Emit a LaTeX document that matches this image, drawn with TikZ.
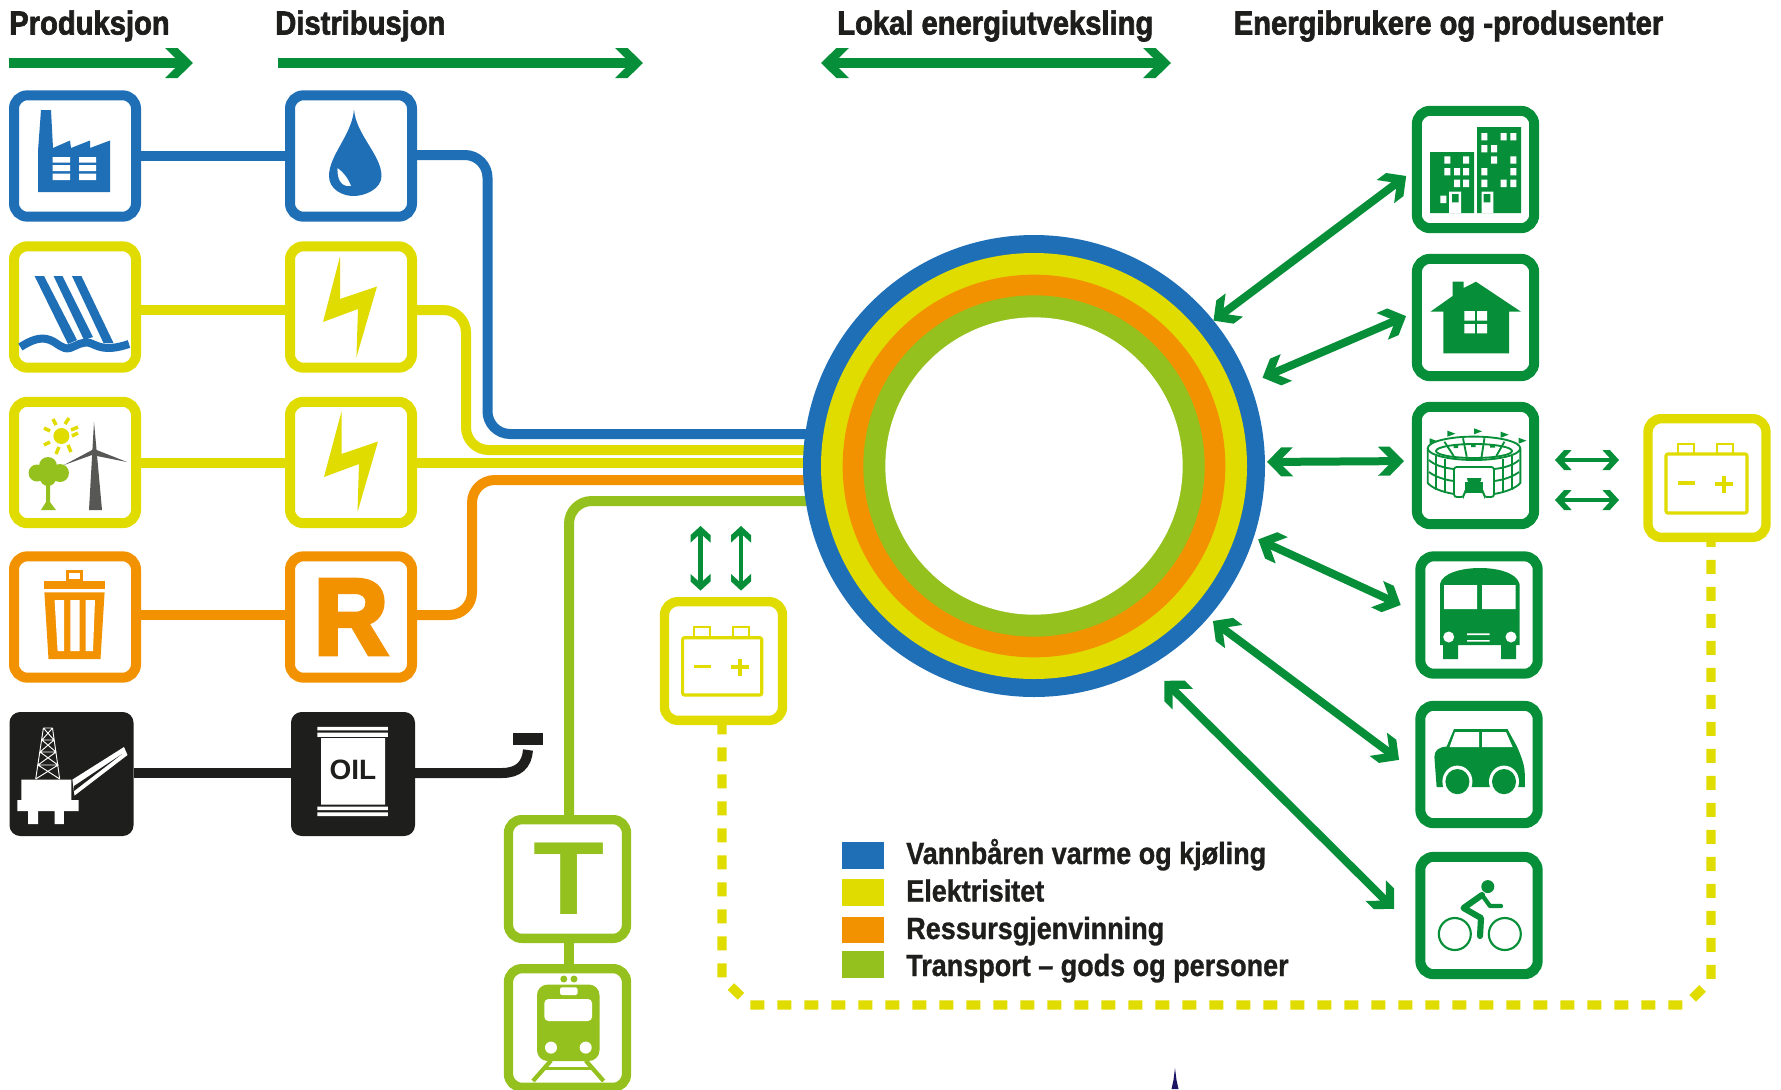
\documentclass[tikz,border=0pt]{standalone}
\usepackage{fontspec}
\setmainfont{Liberation Sans}
\newfontfamily\headfont{Liberation Sans}[FakeStretch=0.875,FakeBold=2]
\newfontfamily\legendfont{Liberation Sans}[FakeStretch=0.88,FakeBold=1]
\newfontfamily\iconfont{Liberation Sans}[FakeStretch=0.95,FakeBold=4]
\newfontfamily\termfont{Liberation Sans}[FakeStretch=1.12]
\usepackage{tikz}
\usetikzlibrary{arrows.meta}
\definecolor{heatblue}{HTML}{1F6FB7}
\definecolor{poweryellow}{HTML}{E0DC00}
\definecolor{wasteorange}{HTML}{F39200}
\definecolor{transportlime}{HTML}{95C11F}
\definecolor{flowgreen}{HTML}{068F38}
\definecolor{oilblack}{HTML}{1E1E1C}
\definecolor{turbinegrey}{HTML}{575756}
\definecolor{spirenavy}{HTML}{1B1464}
\pgfdeclarearrow{
  name = Chevron,
  parameters = {\the\pgfarrowlength,\the\pgfarrowwidth},
  setup code = {
    \pgfarrowssettipend{0pt}
    \pgfarrowssetbackend{-\pgfarrowlength}
    \pgfarrowssetlineend{-.3\pgfarrowlength}
    \pgfarrowssavethe\pgfarrowlength
    \pgfarrowssavethe\pgfarrowwidth
  },
  drawing code = {
    \pgfpathmoveto{\pgfpointorigin}
    \pgfpathlineto{\pgfqpoint{-.55\pgfarrowlength}{.5\pgfarrowwidth}}
    \pgfpathlineto{\pgfqpoint{-\pgfarrowlength}{.5\pgfarrowwidth}}
    \pgfpathlineto{\pgfqpoint{-.45\pgfarrowlength}{0pt}}
    \pgfpathlineto{\pgfqpoint{-\pgfarrowlength}{-.5\pgfarrowwidth}}
    \pgfpathlineto{\pgfqpoint{-.55\pgfarrowlength}{-.5\pgfarrowwidth}}
    \pgfpathclose
    \pgfusepathqfill
  },
  defaults = {length=21pt,width=22.5pt}
}
\tikzset{
  iconbox/.style={draw=#1,fill=white,line width=7.5pt,rounded corners=10pt,minimum width=91.5pt,minimum height=91pt,inner sep=0pt,outer sep=0pt},
  userbox/.style={draw=flowgreen,fill=white,line width=7.5pt,rounded corners=10pt,minimum width=88pt,minimum height=88pt,inner sep=0pt,outer sep=0pt},
  smallbox/.style={draw=#1,fill=white,line width=7pt,rounded corners=10pt,minimum width=88.5pt,minimum height=89pt,inner sep=0pt,outer sep=0pt},
  oilbox/.style={fill=oilblack,rounded corners=8pt,minimum width=93pt,minimum height=93pt,inner sep=0pt,outer sep=0pt},
  ring/.style 2 args={circle,fill=#1,minimum size=#2,inner sep=0pt,outer sep=0pt},
  pipe/.style={draw=#1,line width=7.5pt,rounded corners=17pt},
  headarrow/.style={draw=flowgreen,line width=7.5pt,>={Chevron[length=21pt,width=22.5pt]}},
  flowarrow/.style={draw=flowgreen,line width=6pt,<->,>={Chevron[length=19.5pt,width=21.75pt]}},
  storearrow/.style={draw=flowgreen,line width=3.6pt,<->,>={Chevron[length=12.5pt,width=15pt]}},
  storeline/.style={draw=poweryellow,line width=7pt,dash pattern={on 10.5pt off 9.75pt}},
  headtext/.style={anchor=base west,inner sep=0pt,font=\headfont\bfseries\fontsize{25}{25}\selectfont,color=oilblack},
  legendtext/.style={anchor=base west,inner sep=0pt,font=\legendfont\bfseries\fontsize{23}{23}\selectfont,color=oilblack},
  swatch/.style={fill=#1,minimum width=31.5pt,minimum height=20pt,inner sep=0pt,outer sep=0pt}
}
\begin{document}
\begin{tikzpicture}[x=0.75pt,y=0.75pt,yscale=-1,xscale=1]
\useasboundingbox (0,0) rectangle (1781,1089);

% Text Node
\draw (9,34.5) node (prodhead) [headtext] {Produksjon};
% Text Node
\draw (275,34.5) node (disthead) [headtext] {Distribusjon};
% Text Node
\draw (837,34.5) node (localhead) [headtext] {Lokal energiutveksling};
% Text Node
\draw (1233.5,34.5) node (userhead) [headtext] {Energibrukere og -produsenter};

%Straight Lines
\coordinate (prodfrom) at (9,63); \coordinate (prodto) at (193,63);
\coordinate (distfrom) at (278,63); \coordinate (distto) at (643,63);
\coordinate (localfrom) at (821,63); \coordinate (localto) at (1171,63);
\draw [headarrow,->]  (prodfrom) -- (prodto) ;
\draw [headarrow,->]  (distfrom) -- (distto) ;
\draw [headarrow,<->]  (localfrom) -- (localto) ;

%Shape: Production and distribution boxes
\draw (75,156) node (prodA) [iconbox=heatblue] {};
\draw (351,156) node (distA) [iconbox=heatblue] {};
\draw (75,307) node (prodB) [iconbox=poweryellow] {};
\draw (351,307) node (distB) [iconbox=poweryellow] {};
\draw (75,462.5) node (prodC) [iconbox=poweryellow] {};
\draw (351,462.5) node (distC) [iconbox=poweryellow] {};
\draw (75,617) node (prodD) [iconbox=wasteorange] {};
\draw (351,617) node (distD) [iconbox=wasteorange] {};
\draw (71.5,774) node (prodE) [oilbox] {};
\draw (353,774) node (distE) [oilbox] {};
\draw (567.5,879) node (termA) [smallbox=transportlime] {};
\draw (567.5,1028) node (termB) [smallbox=transportlime] {};
\draw (723.5,661) node (battA) [smallbox=poweryellow] {};
\draw (1707,478) node (battB) [smallbox=poweryellow] {};

%Straight Lines
\coordinate (hubA) at (830,434);
\coordinate (hubB) at (830,450);
\coordinate (hubC) at (830,463);
\coordinate (hubD) at (830,480);
\coordinate (hubE) at (830,501);
\coordinate (oilend) at (528,750);
\draw [draw=heatblue,line width=7.5pt]  (prodA) -- (distA) ;
\draw [draw=poweryellow,line width=7.5pt]  (prodB.east |- 0,310) -- (distB.west |- 0,310) ;
\draw [draw=poweryellow,line width=7.5pt]  (prodC.east |- 0,463) -- (distC.west |- 0,463) ;
\draw [draw=wasteorange,line width=7.5pt]  (prodD.east |- 0,615) -- (distD.west |- 0,615) ;
\draw [draw=oilblack,line width=7.5pt]  (prodE.east |- 0,773) -- (distE.west |- 0,773) ;
\draw [pipe=poweryellow]  (distB.east |- 0,310) -- (466,310) -- (466,450) -- (hubB) ;
\draw [pipe=heatblue]  (distA.east |- 0,155) -- (487.5,155) -- (487.5,434) -- (hubA) ;
\draw [draw=poweryellow,line width=7.5pt]  (distC.east |- 0,463) -- (hubC) ;
\draw [pipe=wasteorange]  (distD.east |- 0,615) -- (472,615) -- (472,480) -- (hubD) ;
\draw [draw=oilblack,line width=7.5pt]  (distE.east |- 0,773) -- (502,773) .. controls (518,773) and (527,765) .. (oilend) ;
\draw [pipe=transportlime]  (termA.north -| 569,0) -- (569,501) -- (hubE) ;
\draw [draw=transportlime,line width=7.5pt]  (termB.north -| 569,0) -- (termA.south -| 569,0) ;
%Shape: Pipe cap
\fill [oilblack]  (513,733) rectangle (543,745) ;

%Shape: Rings
\draw (1034,466) node (hub) [ring={heatblue}{346.5pt}] {};
\draw (1034,466) node (hubyellow) [ring={poweryellow}{319.5pt}] {};
\draw (1034,466) node (huborange) [ring={wasteorange}{287pt}] {};
\draw (1034,466) node (hublime) [ring={transportlime}{256pt}] {};
\draw (1034,466) node (hubcore) [ring={white}{223pt}] {};

%Shape: User boxes
\draw (1475.5,169.5) node (userA) [userbox] {};
\draw (1475.5,317.5) node (userB) [userbox] {};
\draw (1475.5,465.5) node (userC) [userbox] {};
\draw (1479,615) node (userD) [userbox] {};
\draw (1479,764.5) node (userE) [userbox] {};
\draw (1479,915.5) node (userF) [userbox] {};

%Straight Lines
\draw [flowarrow,shorten >=10pt]  (hub.39.4) -- (userA.west |- 0,168) ;
\draw [flowarrow,shorten <=10.5pt,shorten >=8.8pt]  (hub.21.5) -- (userB.west |- 0,311.5) ;
\draw [flowarrow,shorten <=1.5pt,shorten >=9.6pt]  (hub.1.24) -- (userC.west |- 0,461) ;
\draw [flowarrow,shorten <=3.7pt,shorten >=16.2pt]  (hub.-18.9) -- (userD.west |- 0,614) ;
\draw [flowarrow,shorten <=4.3pt,shorten >=19.9pt]  (hub.-41.35) -- (userE.west |- 0,775.7) ;
\draw [flowarrow,shorten <=15.7pt,shorten >=27.8pt]  (hub.-60.1) -- (userF.west |- 0,935) ;
\draw [storearrow,shorten <=15.6pt,shorten >=21.75pt]  (userC.east |- 0,460) -- (battB.west |- 0,460) ;
\draw [storearrow,shorten <=15.6pt,shorten >=21.75pt]  (userC.east |- 0,500) -- (battB.west |- 0,500) ;
\coordinate (storeL) at (700.5,526); \coordinate (storeR) at (741,526);
\draw [storearrow,shorten >=8.3pt]  (storeL) -- (battA.north -| storeL) ;
\draw [storearrow,shorten >=8.3pt]  (storeR) -- (battA.north -| storeR) ;
\draw [storeline]  (battA.south -| 722,0) -- (722,978) -- (750,1005) -- (1686,1005) -- (1711,980) -- (battB.south -| 1711,0) ;

%Shape: Factory
\fill [heatblue]  (41,110) -- (51,110) -- (53,148) -- (70,140.5) -- (71,148) -- (90,140.5) -- (90,148) -- (110,140.5) -- (110,192) -- (38,192) -- (38,151) -- cycle ;
\fill [white]  (52.5,157) rectangle (70,162.5) (79,157) rectangle (96,162.5) (52.5,165) rectangle (70,171) (79,165) rectangle (96,171) (52.5,173.5) rectangle (70,180) (79,173.5) rectangle (96,180) ;
%Shape: Drop
\fill [heatblue]  (354,109.5) .. controls (356,135) and (381.5,155) .. (381.5,176) .. controls (381.5,189) and (365,196) .. (353.5,196) .. controls (342,196) and (329,189) .. (329,176) .. controls (329,155) and (352,135) .. (354,109.5) -- cycle ;
\fill [white]  (337.5,168) .. controls (343,172) and (348,178) .. (351,186) .. controls (344,187) and (337,183) .. (337.5,168) -- cycle ;
%Shape: Hydro
\fill [heatblue]  (34.6,276) -- (44,276) -- (77,340) -- (68,344) -- cycle ;
\fill [heatblue]  (53.6,276) -- (62.5,276) -- (93,337) -- (84,340) -- cycle ;
\fill [heatblue]  (72,276) -- (81.4,276) -- (113.5,343) -- (103.5,343) -- cycle ;
\draw [heatblue,line width=6pt]  (20.4,347) .. controls (30,341) and (40,336) .. (50,340) .. controls (58,343) and (62,350) .. (70,348) .. controls (76,346) and (82,341) .. (90,343) .. controls (98,346) and (105,352) .. (129,344) ;
%Shape: Bolts
\fill [poweryellow]  (340,256.5) -- (340,299) -- (377,286.5) -- (356.4,357.4) -- (358,309) -- (323,322) -- cycle ;
\fill [poweryellow]  (341.5,411.5) -- (341.5,454) -- (378,441.5) -- (357.5,512) -- (359,464) -- (324,477) -- cycle ;
%Shape: Sun
\fill [poweryellow]  (61.4,436) circle [radius=8] ;
\draw [poweryellow,line width=2.6pt]  (72,436) -- (78,433) (68,445) -- (71,452) (59,447) -- (56,454) (50,442) -- (44,445) (50,431) -- (44,428) (56,425) -- (53,419) (65,424) -- (69,418) (71,430) -- (78,427) ;
%Shape: Turbine
\fill [turbinegrey]  (94,422) -- (89,510) -- (102,510) -- cycle ;
\fill [turbinegrey]  (94,449) -- (127,462) -- (92,455) -- (64,465) -- cycle ;
%Shape: Tree
\fill [transportlime]  (48,466) circle [radius=9] (37,473) circle [radius=8.5] (60,473) circle [radius=9] (48,478) circle [radius=8] ;
\fill [transportlime]  (46,480) -- (50,480) -- (50,502) -- (56,510) -- (41,510) -- (46,502) -- cycle ;
%Shape: Bin
\draw [wasteorange,line width=2.6pt]  (67.5,581) rectangle (81.5,571.5) ;
\fill [wasteorange]  (44.4,580.6) rectangle (104.6,589) ;
\fill [wasteorange]  (44.4,592.4) -- (104.6,592.4) -- (100.5,659) -- (48.5,659) -- cycle ;
\fill [white]  (54.6,600) -- (64,600) -- (64,651) -- (57.6,651) -- cycle (70.4,600) -- (79.6,600) -- (79.6,651) -- (70.4,651) -- cycle (85.7,600) -- (95,600) -- (93,651) -- (85.7,651) -- cycle ;
% Text Node
\draw (351,617) node (recycle) [inner sep=0pt,font=\iconfont\bfseries\fontsize{81}{81}\selectfont,color=wasteorange] {R};
%Shape: Rig
\fill [white]  (21.4,779.6) -- (71.4,779.6) -- (71.4,800) -- (78.6,800) -- (78.6,811) -- (63.8,811) -- (63.8,824) -- (54.6,824) -- (54.6,811) -- (38,811) -- (38,824) -- (28,824) -- (28,811) -- (17.3,811) -- (17.3,800) -- (21.4,800) -- cycle ;
\fill [white]  (72.4,779.6) -- (124,747) -- (127.5,755) -- (74.5,795.6) -- cycle ;
\fill [oilblack]  (74,786) -- (122,754) -- (74,791) -- cycle ;
\draw [white,line width=0.7pt]  (43.4,728) -- (35.7,779) (52.5,728) -- (59.7,779) (43.4,728) -- (52.5,728) (42,740) -- (54,740) (40,752) -- (56,752) (38,765) -- (58,765) (43.4,728) -- (54,740) -- (40,752) -- (58,765) -- (35.7,779) (52.5,728) -- (42,740) -- (56,752) -- (38,765) -- (59.7,779) ;
%Shape: Barrel
\fill [white]  (317.3,726.8) rectangle (387.8,730.4) (317.3,732.5) rectangle (387.8,736.8) (321,738) rectangle (385,804.5) (317.3,806.7) rectangle (387.8,810) (317.3,812.4) rectangle (387.8,816) ;
% Text Node
\draw (353,770) node (oillabel) [inner sep=0pt,font=\bfseries\fontsize{21}{21}\selectfont,color=oilblack] {OIL};
% Text Node
\draw (569.5,878.5) node (termlabel) [inner sep=0pt,font=\termfont\bfseries\fontsize{78}{78}\selectfont,color=transportlime] {T};
%Shape: Train
\fill [transportlime]  (563.8,979) circle [radius=3.5] (574,979) circle [radius=3.5] ;
\fill [transportlime,rounded corners=8pt]  (537,984.5) rectangle (599.5,1061) ;
\fill [white,rounded corners=1.5pt]  (560,987.4) rectangle (577.5,995) ;
\fill [white,rounded corners=3pt]  (544.4,999) rectangle (592,1021) ;
\fill [white]  (551,1047.6) circle [radius=6] (585.7,1047.6) circle [radius=6] ;
\draw [transportlime,line width=3.2pt]  (551,1060.5) -- (533,1081) (585.7,1060.5) -- (603.6,1081) ;
\draw [transportlime,line width=2.4pt]  (543.4,1068.4) -- (593.4,1068.4) ;
%Shape: Batteries
\draw [poweryellow,line width=2.4pt,rounded corners=1.5pt]  (682.6,637.7) rectangle (761.7,695) ;
\draw [poweryellow,line width=1.4pt]  (694,637) -- (694,627) -- (710,627) -- (710,637) (733,637) -- (733,627) -- (749,627) -- (749,637) ;
\draw [poweryellow,line width=2.4pt]  (694,666.5) -- (711,666.5) (731,667) -- (749,667) (740,658.5) -- (740,675.5) ;
\draw [poweryellow,line width=2.4pt,rounded corners=1.5pt]  (1666,454) rectangle (1747,513) ;
\draw [poweryellow,line width=1.4pt]  (1678,453) -- (1678,444) -- (1694,444) -- (1694,453) (1717,453) -- (1717,444) -- (1733,444) -- (1733,453) ;
\draw [poweryellow,line width=2.4pt]  (1678,483) -- (1695,483) (1715,484) -- (1733,484) (1724,475.5) -- (1724,492.5) ;
%Shape: Buildings
\fill [flowgreen]  (1430,152) rectangle (1474,213) (1477,127) rectangle (1521,213) ;
\fill [white]  (1481.4,133) rectangle (1487.4,140.4) (1500.7,133) rectangle (1506.7,140.4) (1510.3,133) rectangle (1516.3,140.4) (1481.4,145) rectangle (1487.4,152.4) (1491,145) rectangle (1497,152.4) (1491,156.3) rectangle (1497,163.7) (1510.3,156.3) rectangle (1516.3,163.7) (1481.4,168) rectangle (1487.4,175.4) (1510.3,168) rectangle (1516.3,175.4) (1481.4,179.6) rectangle (1487.4,187) (1500.7,179.6) rectangle (1506.7,187) (1510.3,179.6) rectangle (1516.3,187) ;
\fill [white]  (1444.4,156.3) rectangle (1450.4,163.7) (1463,156.3) rectangle (1469,163.7) (1444.4,168) rectangle (1450.4,175.4) (1454,168) rectangle (1460,175.4) (1463,168) rectangle (1469,175.4) (1454,179.6) rectangle (1460,187) (1463,179.6) rectangle (1469,187) (1440.3,195.6) rectangle (1446.3,203) ;
\fill [white]  (1449,191.7) rectangle (1461,213) (1481.5,191.7) rectangle (1493.3,213) ;
\fill [flowgreen]  (1452,194) rectangle (1458.5,202.3) (1483.7,194) rectangle (1490.4,202.3) ;
%Shape: House
\fill [flowgreen]  (1452.6,281.7) -- (1463.7,281.7) -- (1463.7,288) -- (1476,281.7) -- (1521,311.7) -- (1509,311.7) -- (1509,353.3) -- (1443.3,353.3) -- (1443.3,311.7) -- (1430.4,311.7) -- (1452.6,296) -- cycle ;
\fill [white]  (1464.4,311) rectangle (1474.8,320.7) (1477,311) rectangle (1487,320.7) (1464.4,324) rectangle (1474.8,333.3) (1477,324) rectangle (1487,333.3) ;
%Shape: Stadium
\draw [flowgreen,line width=1.4pt]  (1474,448.3) ellipse [x radius=46.3,y radius=11.7] ;
\draw [flowgreen,line width=1.4pt]  (1474,451) ellipse [x radius=38,y radius=7] ;
\draw [flowgreen,line width=1.4pt]  (1444.4,441.7) -- (1453.7,456) (1463,438.3) -- (1466.7,456.7) (1484.4,438.3) -- (1481.5,457.3) (1504.4,441.7) -- (1496.3,456) ;
\fill [flowgreen]  (1453.6,444.6) rectangle (1458,448) (1471,443.5) rectangle (1475.6,447) (1490,444.6) rectangle (1495,447.5) ;
\draw [flowgreen,line width=1.4pt]  (1427.7,449) -- (1427.7,483) .. controls (1432,488) and (1442,492) .. (1454,494) (1520.3,449) -- (1520.3,483) .. controls (1516,488) and (1506,492) .. (1494,494) ;
\draw [flowgreen,line width=1.4pt]  (1429,460) .. controls (1434,465) and (1444,468) .. (1454,469) (1429,472) .. controls (1434,476) and (1444,480) .. (1454,481) (1519,460) .. controls (1514,465) and (1504,468) .. (1494,469) (1519,472) .. controls (1514,476) and (1504,480) .. (1494,481) ;
\draw [flowgreen,line width=1.4pt]  (1436,456) -- (1436,490) (1445,459) -- (1445,492) (1512,456) -- (1512,490) (1503,459) -- (1503,492) ;
\draw [flowgreen,line width=1.4pt,fill=white,rounded corners=2pt]  (1454,467) -- (1494,467) -- (1494,497) -- (1484,497) -- (1484,492) -- (1464,492) -- (1464,497) -- (1454,497) -- cycle ;
\fill [flowgreen]  (1464.8,481.7) rectangle (1483.3,493.3) ;
\fill [flowgreen]  (1467,478) arc [start angle=180,end angle=0,radius=7.2] -- cycle ;
\fill [flowgreen]  (1429.6,438.3) -- (1437.6,441.3) -- (1429.6,444.3) -- cycle (1447.4,430.7) -- (1455.4,433.7) -- (1447.4,436.7) -- cycle (1474,428.3) -- (1482,431.3) -- (1474,434.3) -- cycle (1500.7,431.7) -- (1508.7,434.7) -- (1500.7,437.7) -- cycle (1518.5,437.7) -- (1526.5,440.7) -- (1518.5,443.7) -- cycle ;
%Shape: Bus
\fill [flowgreen]  (1440,645) -- (1440,584) .. controls (1442,573) and (1462,568) .. (1480,568) .. controls (1498,568) and (1517,573) .. (1519.5,584) -- (1519.5,645) -- (1516,645) -- (1516,659) -- (1501,659) -- (1501,645) -- (1458,645) -- (1458,659) -- (1443,659) -- (1443,645) -- cycle ;
\fill [white]  (1444,585) rectangle (1477,609) (1482,585) rectangle (1515.6,609) (1467,633.4) rectangle (1489.6,635) (1467,640) rectangle (1489.6,641.6) ;
\fill [white]  (1448.7,637) circle [radius=5.5] (1511,637) circle [radius=5.5] ;
%Shape: Car
\fill [flowgreen]  (1436.6,787) -- (1434.4,757) .. controls (1434.4,751) and (1438,747) .. (1446.6,746.6) -- (1454,729) -- (1507.4,729) -- (1517,746.6) .. controls (1522,758) and (1524.8,766) .. (1524.8,775) -- (1524.8,787) -- cycle ;
\fill [white]  (1455,732) -- (1479,732) -- (1479,747) -- (1449.6,747) -- cycle (1482,732) -- (1506,732) -- (1512.6,747) -- (1482,747) -- cycle ;
\fill [white]  (1457.4,781.6) ellipse [x radius=15,y radius=16] (1504,781.6) ellipse [x radius=15,y radius=16] ;
\fill [flowgreen]  (1457.4,781.6) ellipse [x radius=12,y radius=12.6] (1504,781.6) ellipse [x radius=12,y radius=12.6] ;
%Shape: Bicycle
\fill [flowgreen]  (1487.8,886.6) circle [radius=6.5] ;
\draw [flowgreen,line width=4.6pt,line join=round,line cap=round]  (1482,895) -- (1463.5,908) -- (1481,918) -- (1480,936) ;
\draw [flowgreen,line width=3.2pt,line join=round,line cap=round]  (1482,895) -- (1490,906) -- (1501,906) ;
\draw [flowgreen,line width=1.6pt]  (1454.8,934) circle [radius=16] (1504.8,934) circle [radius=16] ;

%Shape: Legend
\draw (863,855.5) node (swatchA) [swatch=heatblue] {};
\draw (863,892.5) node (swatchB) [swatch=poweryellow] {};
\draw (863,930) node (swatchC) [swatch=wasteorange] {};
\draw (863,964.5) node (swatchD) [swatch=transportlime] {};
% Text Node
\draw (906,864) node (legendA) [legendtext] {Vannbåren varme og kjøling};
% Text Node
\draw (906,901.5) node (legendB) [legendtext] {Elektrisitet};
% Text Node
\draw (906,939) node (legendC) [legendtext] {Ressursgjenvinning};
% Text Node
\draw (906,976) node (legendD) [legendtext] {Transport – gods og personer};

%Shape: Spire
\fill [spirenavy]  (1175,1068) -- (1176.5,1080) -- (1178.5,1089) -- (1171.5,1089) -- (1173.5,1080) -- cycle ;

\end{tikzpicture}
\end{document}
